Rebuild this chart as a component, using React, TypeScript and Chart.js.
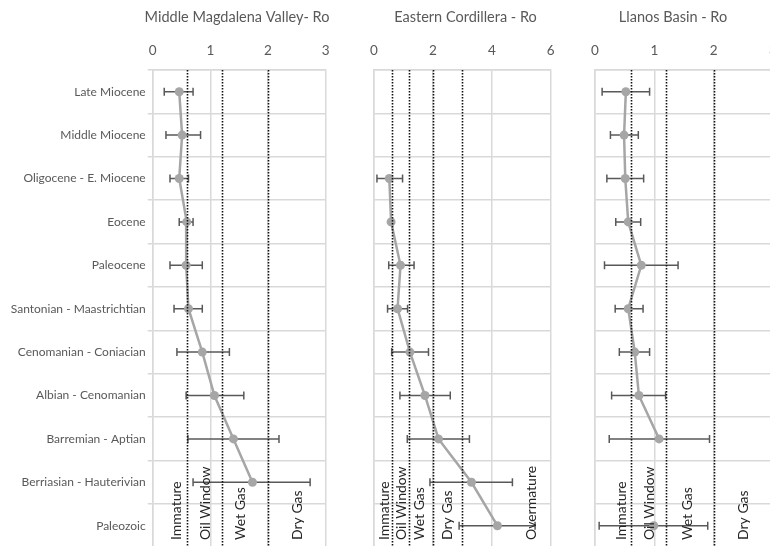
import React, { useEffect, useRef } from "react";
import { Chart, registerables } from "chart.js";

Chart.register(...registerables);

// Stratigraphic intervals, youngest at the top
const categories = [
  "Late Miocene",
  "Middle Miocene",
  "Oligocene - E. Miocene",
  "Eocene",
  "Paleocene",
  "Santonian - Maastrichtian",
  "Cenomanian - Coniacian",
  "Albian - Cenomanian",
  "Barremian - Aptian",
  "Berriasian - Hauterivian",
  "Paleozoic",
];

// Middle Magdalena Valley vitrinite reflectance (%Ro): mean, min, max
const mmvRo = [0.46, 0.51, 0.46, 0.59, 0.58, 0.62, 0.86, 1.07, 1.4, 1.73, null];
const mmvMin = [0.2, 0.23, 0.3, 0.46, 0.3, 0.37, 0.42, 0.58, 0.61, 0.7, null];
const mmvMax = [0.7, 0.83, 0.62, 0.7, 0.86, 0.86, 1.33, 1.58, 2.19, 2.73, null];

// Eastern Cordillera
const ecRo = [null, null, 0.52, 0.58, 0.9, 0.8, 1.22, 1.73, 2.19, 3.31, 4.19];
const ecMin = [null, null, 0.1, 0.53, 0.5, 0.46, 0.6, 0.88, 1.13, 1.9, 2.89];
const ecMax = [null, null, 0.97, 0.63, 1.36, 1.14, 1.85, 2.59, 3.24, 4.7, 5.47];

// Llanos Basin
const llRo = [0.52, 0.49, 0.51, 0.56, 0.78, 0.56, 0.67, 0.74, 1.08, null, 0.99];
const llMin = [0.12, 0.26, 0.2, 0.35, 0.16, 0.34, 0.41, 0.28, 0.24, null, 0.07];
const llMax = [0.92, 0.73, 0.82, 0.77, 1.4, 0.81, 0.92, 1.19, 1.93, null, 1.9];

// Maturity windows (%Ro boundaries) and their labels
const zoneNames = ["Immature", "Oil Window", "Wet Gas", "Dry Gas", "Overmature"];
const mmvBounds = [0.6, 1.2, 2.0];
const ecBounds = [0.6, 1.2, 2.0, 3.0];
const llBounds = [0.6, 1.2, 2.0];
const mmvZoneLabelAt = [0.42, 0.91, 1.52, 2.51];
const ecZoneLabelAt = [0.34, 0.94, 1.56, 2.49, 5.35];
const llZoneLabelAt = [0.45, 0.91, 1.56, 2.5];

const FONT = "Lato, 'Open Sans', 'Noto Sans', sans-serif";
const GREY_TEXT = "#595959";
const GRID = "#d9d9d9";
const SERIES = "#a6a6a6";
const ERR = "#595959";

// Whisker bars behind the markers
const errorBars = {
  id: "errorBars",
  beforeDatasetsDraw(chart: any, _args: any, opts: any) {
    const { ctx } = chart;
    const xs = chart.scales.x;
    const ys = chart.scales.y;
    const lo: (number | null)[] = opts.min || [];
    const hi: (number | null)[] = opts.max || [];
    ctx.save();
    ctx.strokeStyle = ERR;
    ctx.lineWidth = 1.5;
    for (let i = 0; i < lo.length; i++) {
      const a = lo[i];
      const b = hi[i];
      if (a == null || b == null) continue;
      const y = ys.getPixelForValue(i);
      const x1 = xs.getPixelForValue(a);
      const x2 = xs.getPixelForValue(b);
      ctx.beginPath();
      ctx.moveTo(x1, y);
      ctx.lineTo(x2, y);
      ctx.moveTo(x1, y - 4);
      ctx.lineTo(x1, y + 4);
      ctx.moveTo(x2, y - 4);
      ctx.lineTo(x2, y + 4);
      ctx.stroke();
    }
    ctx.restore();
  },
};

// Dotted maturity boundaries and the rotated window names
const maturityZones = {
  id: "maturityZones",
  afterDatasetsDraw(chart: any, _args: any, opts: any) {
    const { ctx, chartArea } = chart;
    const xs = chart.scales.x;
    const bounds: number[] = opts.bounds || [];
    const at: number[] = opts.labelAt || [];
    ctx.save();
    ctx.strokeStyle = "#111111";
    ctx.lineWidth = 1.6;
    ctx.setLineDash([1.5, 1.5]);
    for (const b of bounds) {
      const x = Math.round(xs.getPixelForValue(b)) + 0.5;
      ctx.beginPath();
      ctx.moveTo(x, chartArea.top);
      ctx.lineTo(x, chartArea.bottom);
      ctx.stroke();
    }
    ctx.setLineDash([]);
    ctx.fillStyle = "#262626";
    ctx.font = `14px ${FONT}`;
    ctx.textAlign = "left";
    ctx.textBaseline = "middle";
    at.forEach((v, i) => {
      const x = xs.getPixelForValue(v);
      ctx.save();
      ctx.translate(x, 540);
      ctx.rotate(-Math.PI / 2);
      ctx.fillText(zoneNames[i], 0, 0);
      ctx.restore();
    });
    ctx.restore();
  },
};

// Panel heading centred at a given x
const panelTitle = {
  id: "panelTitle",
  afterDraw(chart: any, _args: any, opts: any) {
    const { ctx } = chart;
    ctx.save();
    ctx.fillStyle = GREY_TEXT;
    ctx.font = `14.5px ${FONT}`;
    ctx.textAlign = "center";
    ctx.textBaseline = "middle";
    ctx.fillText(opts.text, opts.x, 17);
    ctx.restore();
  },
};

type PanelProps = {
  left: number;
  width: number;
  title: string;
  titleX: number;
  values: (number | null)[];
  lo: (number | null)[];
  hi: (number | null)[];
  max: number;
  step: number;
  bounds: number[];
  labelAt: number[];
  yWidth: number;
  padRight: number;
  showCategories: boolean;
};

const CANVAS_H = 560;

function Panel(p: PanelProps) {
  const ref = useRef<HTMLCanvasElement | null>(null);

  useEffect(() => {
    if (!ref.current) return;
    const chart = new Chart(ref.current, {
      type: "line",
      data: {
        labels: categories,
        datasets: [
          {
            data: p.values as any,
            borderColor: SERIES,
            backgroundColor: SERIES,
            borderWidth: 2.5,
            pointRadius: 4.5,
            pointBorderWidth: 0,
            pointBackgroundColor: SERIES,
            spanGaps: false,
            tension: 0,
          },
        ],
      },
      options: {
        indexAxis: "y",
        animation: false,
        responsive: false,
        devicePixelRatio: 1,
        layout: { padding: { left: 0, right: p.padRight, top: 0, bottom: CANVAS_H - 547.4 } },
        scales: {
          x: {
            type: "linear",
            position: "top",
            min: 0,
            max: p.max,
            afterFit(scale: any) {
              scale.height = 70;
              scale.paddingLeft = 0;
              scale.paddingRight = 0;
            },
            ticks: {
              stepSize: p.step,
              color: GREY_TEXT,
              font: { family: FONT, size: 13.5 },
              padding: 11,
            },
            grid: { color: GRID, lineWidth: 1.5, drawTicks: false },
            border: { display: true, color: GRID, width: 1.5 },
          },
          y: {
            type: "category",
            offset: true,
            afterFit(scale: any) {
              scale.width = p.yWidth;
              scale.paddingTop = 0;
              scale.paddingBottom = 0;
            },
            ticks: {
              display: p.showCategories,
              color: GREY_TEXT,
              font: { family: FONT, size: 12 },
              padding: 2,
            },
            grid: {
              color: GRID,
              lineWidth: 1.5,
              offset: true,
              drawTicks: p.showCategories,
              tickLength: 5,
            },
            border: { display: true, color: GRID, width: 1.5 },
          },
        },
        plugins: {
          legend: { display: false },
          title: { display: false },
          tooltip: { enabled: false },
          errorBars: { min: p.lo, max: p.hi },
          maturityZones: { bounds: p.bounds, labelAt: p.labelAt },
          panelTitle: { text: p.title, x: p.titleX },
        } as any,
      },
      plugins: [errorBars, maturityZones, panelTitle],
    } as any);
    return () => chart.destroy();
  }, []);

  return (
    <canvas
      ref={ref}
      width={p.width}
      height={CANVAS_H}
      style={{ position: "absolute", left: p.left, top: 0, width: p.width, height: CANVAS_H }}
    />
  );
}

export default function App() {
  return (
    <div
      style={{
        position: "fixed",
        left: 0,
        top: 0,
        width: 770,
        height: 546,
        overflow: "hidden",
        background: "#ffffff",
      }}
    >
      <Panel
        left={0}
        width={340}
        title="Middle Magdalena Valley- Ro"
        titleX={237}
        values={mmvRo}
        lo={mmvMin}
        hi={mmvMax}
        max={3}
        step={1}
        bounds={mmvBounds}
        labelAt={mmvZoneLabelAt}
        yWidth={152.7}
        padRight={340 - 325.7}
        showCategories={true}
      />
      <Panel
        left={360}
        width={210}
        title="Eastern Cordillera - Ro"
        titleX={465.5 - 360}
        values={ecRo}
        lo={ecMin}
        hi={ecMax}
        max={6}
        step={2}
        bounds={ecBounds}
        labelAt={ecZoneLabelAt}
        yWidth={14}
        padRight={210 - 190.7}
        showCategories={false}
      />
      <Panel
        left={580}
        width={200}
        title="Llanos Basin - Ro"
        titleX={673 - 580}
        values={llRo}
        lo={llMin}
        hi={llMax}
        max={3}
        step={1}
        bounds={llBounds}
        labelAt={llZoneLabelAt}
        yWidth={15}
        padRight={7}
        showCategories={false}
      />
    </div>
  );
}
